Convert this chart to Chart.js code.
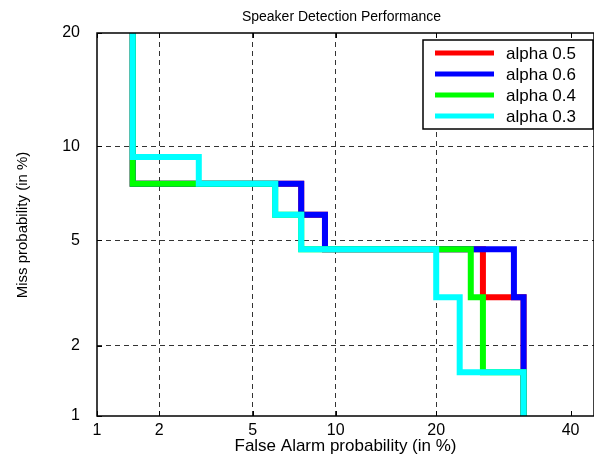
<!DOCTYPE html>
<html>
<head>
<meta charset="utf-8">
<script src="https://cdn.jsdelivr.net/npm/chart.js@4/dist/chart.umd.min.js"></script>
<style>
  html, body { margin: 0; padding: 0; background: #fff; }
  #wrap { width: 594px; height: 459px; }
</style>
</head>
<body>
<div id="wrap"><canvas id="detchart" width="594" height="459"></canvas></div>
<script>
  // DET curves, values in %
  const xTicks = [1, 2, 5, 10, 20, 40];
  const yTicks = [1, 2, 5, 10, 20];
  const xLimits = [1, 44];
  const yLimits = [1, 20];

  const labels = ['alpha 0.5', 'alpha 0.6', 'alpha 0.4', 'alpha 0.3'];
  const colors = ['#ff0000', '#0000ff', '#00ff00', '#00ffff'];

  const fa_05 = [1.5, 1.5, 7.6, 7.6, 9.2, 9.2, 26.2, 26.2, 32.3, 32.3];
  const miss_05 = [20, 7.7, 7.7, 6.1, 6.1, 4.65, 4.65, 3.1, 3.1, 1];

  const fa_06 = [1.5, 1.5, 7.6, 7.6, 9.2, 9.2, 30.8, 30.8, 32.3, 32.3];
  const miss_06 = [20, 7.7, 7.7, 6.1, 6.1, 4.65, 4.65, 3.1, 3.1, 1];

  const fa_04 = [1.5, 1.5, 6.1, 6.1, 7.6, 7.6, 24.5, 24.5, 26.2, 26.2, 32.3, 32.3];
  const miss_04 = [20, 7.7, 7.7, 6.1, 6.1, 4.65, 4.65, 3.1, 3.1, 1.55, 1.55, 1];

  const fa_03 = [1.5, 1.5, 3.0, 3.0, 6.1, 6.1, 7.6, 7.6, 20, 20, 23, 23, 32.3, 32.3];
  const miss_03 = [20, 9.3, 9.3, 7.7, 7.7, 6.1, 6.1, 4.65, 4.65, 3.1, 3.1, 1.55, 1.55, 1];

  // normal deviate (probit), Acklam's approximation
  function probit(p) {
    const a = [-3.969683028665376e+01, 2.209460984245205e+02, -2.759285104469687e+02, 1.383577518672690e+02, -3.066479806614716e+01, 2.506628277459239e+00];
    const b = [-5.447609879822406e+01, 1.615858368580409e+02, -1.556989798598866e+02, 6.680131188771972e+01, -1.328068155288572e+01];
    const c = [-7.784894002430293e-03, -3.223964580411365e-01, -2.400758277161838e+00, -2.549732539343734e+00, 4.374664141464968e+00, 2.938163982698783e+00];
    const d = [7.784695709041462e-03, 3.224671290700398e-01, 2.445134137142996e+00, 3.754408661907416e+00];
    const pl = 0.02425;
    if (p < pl) {
      const q = Math.sqrt(-2 * Math.log(p));
      return (((((c[0]*q+c[1])*q+c[2])*q+c[3])*q+c[4])*q+c[5]) / ((((d[0]*q+d[1])*q+d[2])*q+d[3])*q+1);
    }
    if (p <= 1 - pl) {
      const q = p - 0.5, r = q * q;
      return (((((a[0]*r+a[1])*r+a[2])*r+a[3])*r+a[4])*r+a[5])*q / (((((b[0]*r+b[1])*r+b[2])*r+b[3])*r+b[4])*r+1);
    }
    const q = Math.sqrt(-2 * Math.log(1 - p));
    return -(((((c[0]*q+c[1])*q+c[2])*q+c[3])*q+c[4])*q+c[5]) / ((((d[0]*q+d[1])*q+d[2])*q+d[3])*q+1);
  }

  const toPoints = (xs, ys) => xs.map((x, i) => ({ x: probit(x / 100), y: probit(ys[i] / 100) }));
  const series = [[fa_05, miss_05], [fa_06, miss_06], [fa_04, miss_04], [fa_03, miss_03]];

  const font = 'Arial, "Liberation Sans", sans-serif';

  // Setup Block
  const data_det = {
    datasets: series.map((s, i) => ({
      label: labels[i],
      data: toPoints(s[0], s[1]),
      borderColor: colors[i],
      backgroundColor: colors[i],
      borderWidth: 6,
      borderJoinStyle: 'miter',
      pointRadius: 0,
      tension: 0,
      order: series.length - i
    }))
  };

  // frame, inward ticks, titles and boxed legend like the matlab figure
  const detFrame = {
    id: 'detFrame',
    afterDraw(chart) {
      const ctx = chart.ctx;
      const a = chart.chartArea;
      const xs = chart.scales.x, ys = chart.scales.y;
      ctx.save();
      ctx.strokeStyle = '#000';
      ctx.lineWidth = 1.5;
      ctx.strokeRect(a.left, a.top, a.right - a.left, a.bottom - a.top);
      ctx.lineWidth = 1;
      ctx.beginPath();
      xTicks.forEach(t => {
        const px = Math.round(xs.getPixelForValue(probit(t / 100))) + 0.5;
        ctx.moveTo(px, a.bottom); ctx.lineTo(px, a.bottom - 5);
        ctx.moveTo(px, a.top); ctx.lineTo(px, a.top + 5);
      });
      yTicks.forEach(t => {
        const py = Math.round(ys.getPixelForValue(probit(t / 100))) + 0.5;
        ctx.moveTo(a.left, py); ctx.lineTo(a.left + 5, py);
      });
      ctx.stroke();

      ctx.fillStyle = '#000';
      ctx.textAlign = 'center';
      ctx.textBaseline = 'middle';
      ctx.font = '14px ' + font;
      ctx.fillText('Speaker Detection Performance', (a.left + a.right) / 2 - 4, 17);
      ctx.font = '17px ' + font;
      ctx.fillText('False Alarm probability (in %)', (a.left + a.right) / 2, 446);
      ctx.save();
      ctx.translate(23, 225);
      ctx.rotate(-Math.PI / 2);
      ctx.font = '15px ' + font;
      ctx.fillText('Miss probability (in %)', 0, 0);
      ctx.restore();

      // legend box
      const lx = 423, ly = 40, lw = 170, lh = 89;
      ctx.fillStyle = '#fff';
      ctx.fillRect(lx, ly, lw, lh);
      ctx.lineWidth = 1.5;
      ctx.strokeRect(lx, ly, lw, lh);
      ctx.font = '17px ' + font;
      ctx.textAlign = 'left';
      labels.forEach((lab, i) => {
        const y = 53 + i * 21;
        ctx.strokeStyle = colors[i];
        ctx.lineWidth = 5;
        ctx.beginPath();
        ctx.moveTo(435, y); ctx.lineTo(494, y);
        ctx.stroke();
        ctx.fillStyle = '#000';
        ctx.fillText(lab, 506, y + 1);
      });
      ctx.restore();
    }
  };

  const gridColor = (ctx, ticks) => {
    const v = ctx.tick ? ctx.tick.value : null;
    if (v === null) return 'rgba(0,0,0,0)';
    const first = probit(ticks[0] / 100), last = probit(ticks[ticks.length - 1] / 100);
    if (Math.abs(v - first) < 1e-6 || Math.abs(v - last) < 1e-6) return 'rgba(0,0,0,0)';
    return '#333';
  };

  // Config Block
  const config_det = {
    type: 'line',
    data: data_det,
    plugins: [detFrame],
    options: {
      responsive: false,
      animation: false,
      layout: { padding: { top: 33, right: 0, left: 0, bottom: 0 } },
      plugins: {
        legend: { display: false },
        title: { display: false },
        tooltip: { enabled: false }
      },
      scales: {
        x: {
          type: 'linear',
          min: probit(xLimits[0] / 100),
          max: probit(xLimits[1] / 100),
          afterBuildTicks: s => { s.ticks = xTicks.map(t => ({ value: probit(t / 100) })); },
          afterFit: s => { s.height = 43; },
          ticks: {
            autoSkip: false,
            maxRotation: 0,
            padding: 5,
            color: '#000',
            font: { family: font, size: 16 },
            callback: (v, i) => String(xTicks[i])
          },
          grid: {
            drawTicks: false,
            color: ctx => gridColor(ctx, xTicks),
            lineWidth: 1
          },
          border: { display: false, dash: [5, 4] }
        },
        y: {
          type: 'linear',
          min: probit(yLimits[0] / 100),
          max: probit(yLimits[1] / 100),
          afterBuildTicks: s => { s.ticks = yTicks.map(t => ({ value: probit(t / 100) })); },
          afterFit: s => { s.width = 97; },
          ticks: {
            autoSkip: false,
            padding: 17,
            color: '#000',
            font: { family: font, size: 16 },
            callback: (v, i) => String(yTicks[i])
          },
          grid: {
            drawTicks: false,
            color: ctx => gridColor(ctx, yTicks),
            lineWidth: 1
          },
          border: { display: false, dash: [5, 4] }
        }
      }
    }
  };

  // Render Block
  const detchart = new Chart(
    document.getElementById('detchart'),
    config_det
  );
</script>
</body>
</html>
